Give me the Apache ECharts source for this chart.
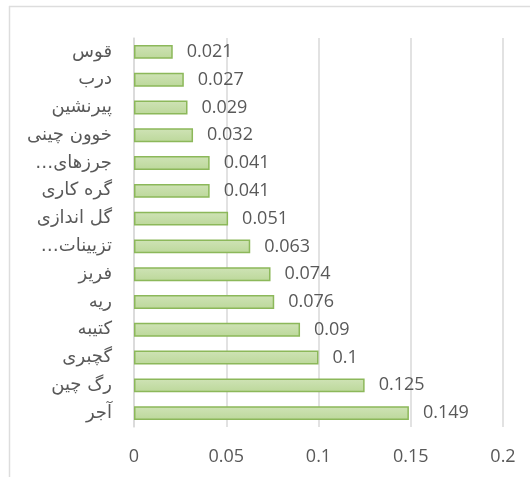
<!DOCTYPE html>
<html>
<head>
<meta charset="utf-8">
<script src="https://cdn.jsdelivr.net/npm/echarts@6/dist/echarts.min.js"></script>
<style>html,body{margin:0;padding:0;background:#fff}#c{width:530px;height:477px}</style>
</head>
<body>
<div id="c"></div>
<script>
const categories = ["قوس","درب","پیرنشین","خوون چینی","…جرزهای","گره کاری","گل اندازی","…تزیینات","فریز","ریه","کتیبه","گچبری","رگ چین","آجر"];
const values = [0.021,0.027,0.029,0.032,0.041,0.041,0.051,0.063,0.074,0.076,0.09,0.1,0.125,0.149];
const tickLabels = ["0","0.05","0.1","0.15","0.2"];

const chart = echarts.init(document.getElementById('c'));
chart.setOption({
  animation: false,
  backgroundColor: '#fff',
  graphic: [
    {type:'line', shape:{x1:9,y1:6.5,x2:530,y2:6.5}, style:{stroke:'#dddddd',lineWidth:1.5}},
    {type:'line', shape:{x1:9.5,y1:6,x2:9.5,y2:477}, style:{stroke:'#dddddd',lineWidth:1.5}}
  ],
  grid: {left:134, right:27, top:38, bottom:50},
  xAxis: {
    type:'value', min:0, max:0.2, interval:0.05,
    axisLine:{show:false}, axisTick:{show:false},
    splitLine:{lineStyle:{color:'#d9d9d9',width:1.5}},
    axisLabel:{margin:21, color:'#595959', fontSize:18, fontFamily:'Open Sans',
      formatter:(v)=>{const i=Math.round(v/0.05);return tickLabels[i];}}
  },
  yAxis: {
    type:'category', data:categories, inverse:true,
    axisLine:{show:true, lineStyle:{color:'#d9d9d9',width:1.5}},
    axisTick:{show:false},
    axisLabel:{margin:22, color:'#595959', fontSize:18, fontFamily:'DejaVu Sans'}
  },
  series: [{
    type:'bar', data:values, barWidth:'50%',
    itemStyle:{
      color:{type:'linear',x:0,y:0,x2:0,y2:1,colorStops:[{offset:0,color:'#cfe3b6'},{offset:1,color:'#bcd89a'}]},
      borderColor:'#8cb85a', borderWidth:1.5
    },
    label:{show:true, position:'right', distance:14, color:'#595959', fontSize:18, fontFamily:'Open Sans',
      formatter:(p)=>String(p.value)}
  }]
});
</script>
</body>
</html>
